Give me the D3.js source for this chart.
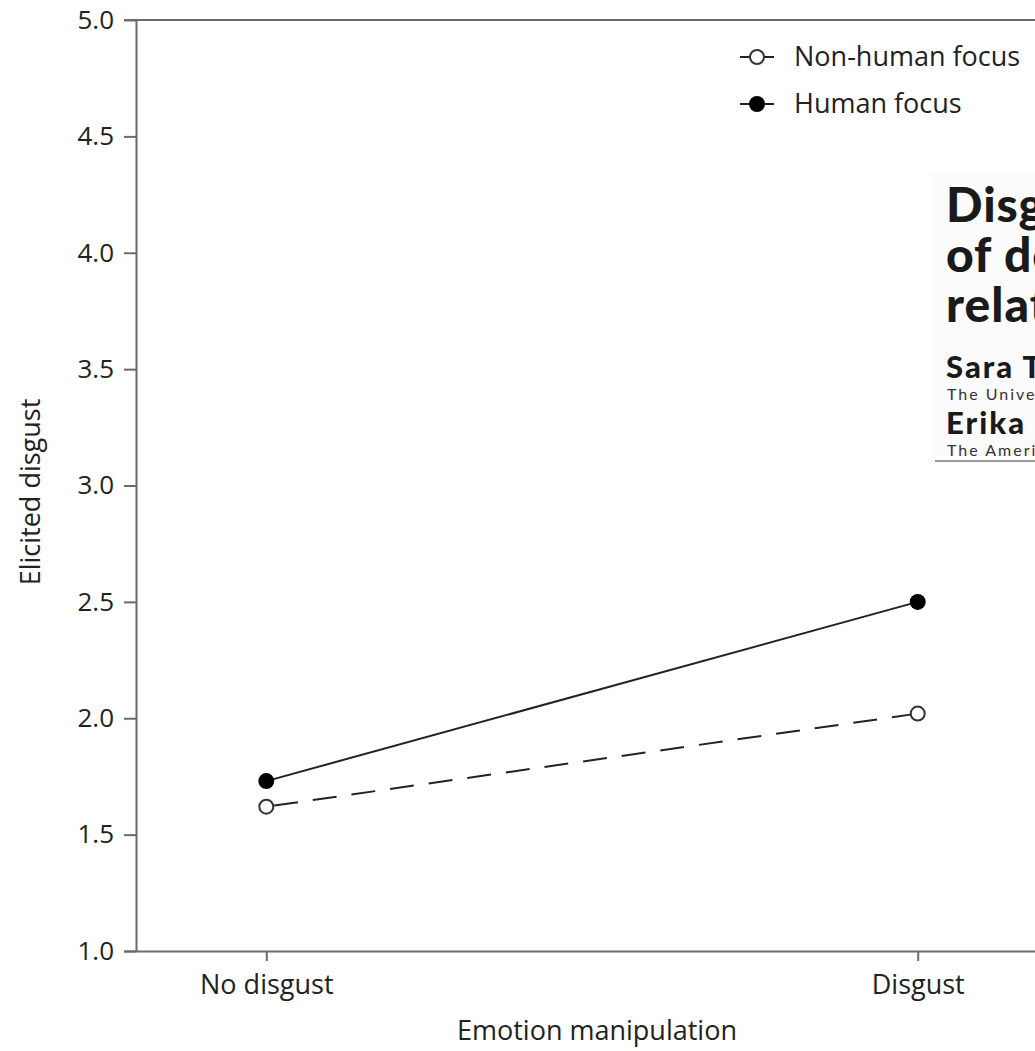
<!DOCTYPE html>
<html><head><meta charset="utf-8">
<script src="https://cdn.jsdelivr.net/npm/d3@7"></script>
<style>
html,body{margin:0;padding:0;background:#fff;overflow:hidden;}
svg{display:block;}
text{font-family:"Open Sans","Noto Sans",sans-serif;}
</style></head>
<body>
<script>
const categories = ["No disgust", "Disgust"];
const nonHuman = [1.62, 2.02];
const human = [1.73, 2.50];
const yTicks = [1.0, 1.5, 2.0, 2.5, 3.0, 3.5, 4.0, 4.5, 5.0];
const seriesNames = ["Non-human focus", "Human focus"];
const titleLines = ["Disgust as a proxy", "of dehumanization", "relations"];
const authors = [["Sara Taylor", "The University"], ["Erika Smith", "The American"]];

const W = 1035, H = 1051;
const svg = d3.select("body").append("svg").attr("width", W).attr("height", H);

const x = d3.scalePoint().domain(categories).range([136, 1048]).padding(0.2);
const y = d3.scaleLinear().domain([1, 5]).range([951, 20]);

const axisColor = "#6b6b6b";
const textColor = "#222";
// y axis
const ya = svg.append("g").attr("transform", "translate(136,0)")
  .call(d3.axisLeft(y).tickValues(yTicks).tickFormat(d3.format(".1f")).tickSize(12).tickSizeOuter(0).tickPadding(10));
ya.select(".domain").attr("stroke", axisColor).attr("stroke-width", 2);
ya.selectAll(".tick line").attr("stroke", axisColor).attr("stroke-width", 2);
ya.selectAll(".tick text").attr("fill", textColor).style("font-size", "26px").attr("font-family", "Open Sans");

// x axis
const xa = svg.append("g").attr("transform", "translate(0,951)")
  .call(d3.axisBottom(x).tickSize(10).tickSizeOuter(0).tickPadding(14));
xa.select(".domain").attr("stroke", axisColor).attr("stroke-width", 2).attr("d", "M124,0.5H1100");
xa.selectAll(".tick line").attr("stroke", axisColor).attr("stroke-width", 2);
xa.selectAll(".tick text").attr("fill", textColor).style("font-size", "27px").attr("font-family", "Open Sans");

// top border
svg.append("line").attr("x1", 124).attr("x2", 1100).attr("y1", y(5)).attr("y2", y(5))
  .attr("stroke", axisColor).attr("stroke-width", 2);

// axis titles
svg.append("text").attr("transform", "translate(40,492) rotate(-90)")
  .attr("text-anchor", "middle").attr("fill", textColor).style("font-size", "27px").text("Elicited disgust");
svg.append("text").attr("x", 597).attr("y", 1040)
  .attr("text-anchor", "middle").attr("fill", textColor).style("font-size", "27px").text("Emotion manipulation");

// title overlay (from the underlying page)
const ov = svg.append("g");
ov.append("rect").attr("x", 932).attr("y", 172).attr("width", 120).attr("height", 284).attr("fill", "#fbfbfb");
ov.selectAll("text.t").data(titleLines).join("text").attr("class", "t")
  .attr("x", 946).attr("y", (d, i) => 222 + i * 50)
  .attr("fill", "#1a1a1a").style("font-family", "Lato").style("font-weight", "900").style("font-size", "48px")
  .style("letter-spacing", "1px").text(d => d);
authors.forEach((a, i) => {
  ov.append("text").attr("x", 946).attr("y", 378 + i * 56).attr("fill", "#1a1a1a")
    .style("font-family", "Lato").style("font-weight", "900").style("font-size", "31px")
    .style("letter-spacing", "2px").text(a[0]);
  ov.append("text").attr("x", 947).attr("y", 400 + i * 56).attr("fill", "#333")
    .style("font-family", "Lato").style("font-size", "16px").style("letter-spacing", "2px").text(a[1]);
});
ov.append("line").attr("x1", 935).attr("x2", 1040).attr("y1", 461).attr("y2", 461).attr("stroke", "#777").attr("stroke-width", 1.5);

// lines
const line = d3.line().x((d, i) => x(categories[i])).y(d => y(d));
svg.append("path").datum(nonHuman).attr("d", line).attr("fill", "none")
  .attr("stroke", "#222").attr("stroke-width", 2).attr("stroke-dasharray", "24,15").attr("stroke-dashoffset", -8);
svg.append("path").datum(human).attr("d", line).attr("fill", "none")
  .attr("stroke", "#222").attr("stroke-width", 2);

svg.selectAll("circle.nh").data(nonHuman).join("circle").attr("class", "nh")
  .attr("cx", (d, i) => x(categories[i])).attr("cy", d => y(d)).attr("r", 7)
  .attr("fill", "#fff").attr("stroke", "#333").attr("stroke-width", 2);
svg.selectAll("circle.h").data(human).join("circle").attr("class", "h")
  .attr("cx", (d, i) => x(categories[i])).attr("cy", d => y(d)).attr("r", 8)
  .attr("fill", "#000");

// legend
const lg = svg.append("g");
const legendY = [57, 104];
seriesNames.forEach((name, i) => {
  lg.append("line").attr("x1", 740).attr("x2", 774).attr("y1", legendY[i]).attr("y2", legendY[i])
    .attr("stroke", "#222").attr("stroke-width", 2);
  if (i === 0) {
    lg.append("circle").attr("cx", 757).attr("cy", legendY[i]).attr("r", 7)
      .attr("fill", "#fff").attr("stroke", "#333").attr("stroke-width", 2);
  } else {
    lg.append("circle").attr("cx", 757).attr("cy", legendY[i]).attr("r", 8).attr("fill", "#000");
  }
  lg.append("text").attr("x", 794).attr("y", legendY[i]).attr("dy", "0.35em")
    .attr("fill", textColor).style("font-size", "27px").text(name);
});
</script>
</body></html>
